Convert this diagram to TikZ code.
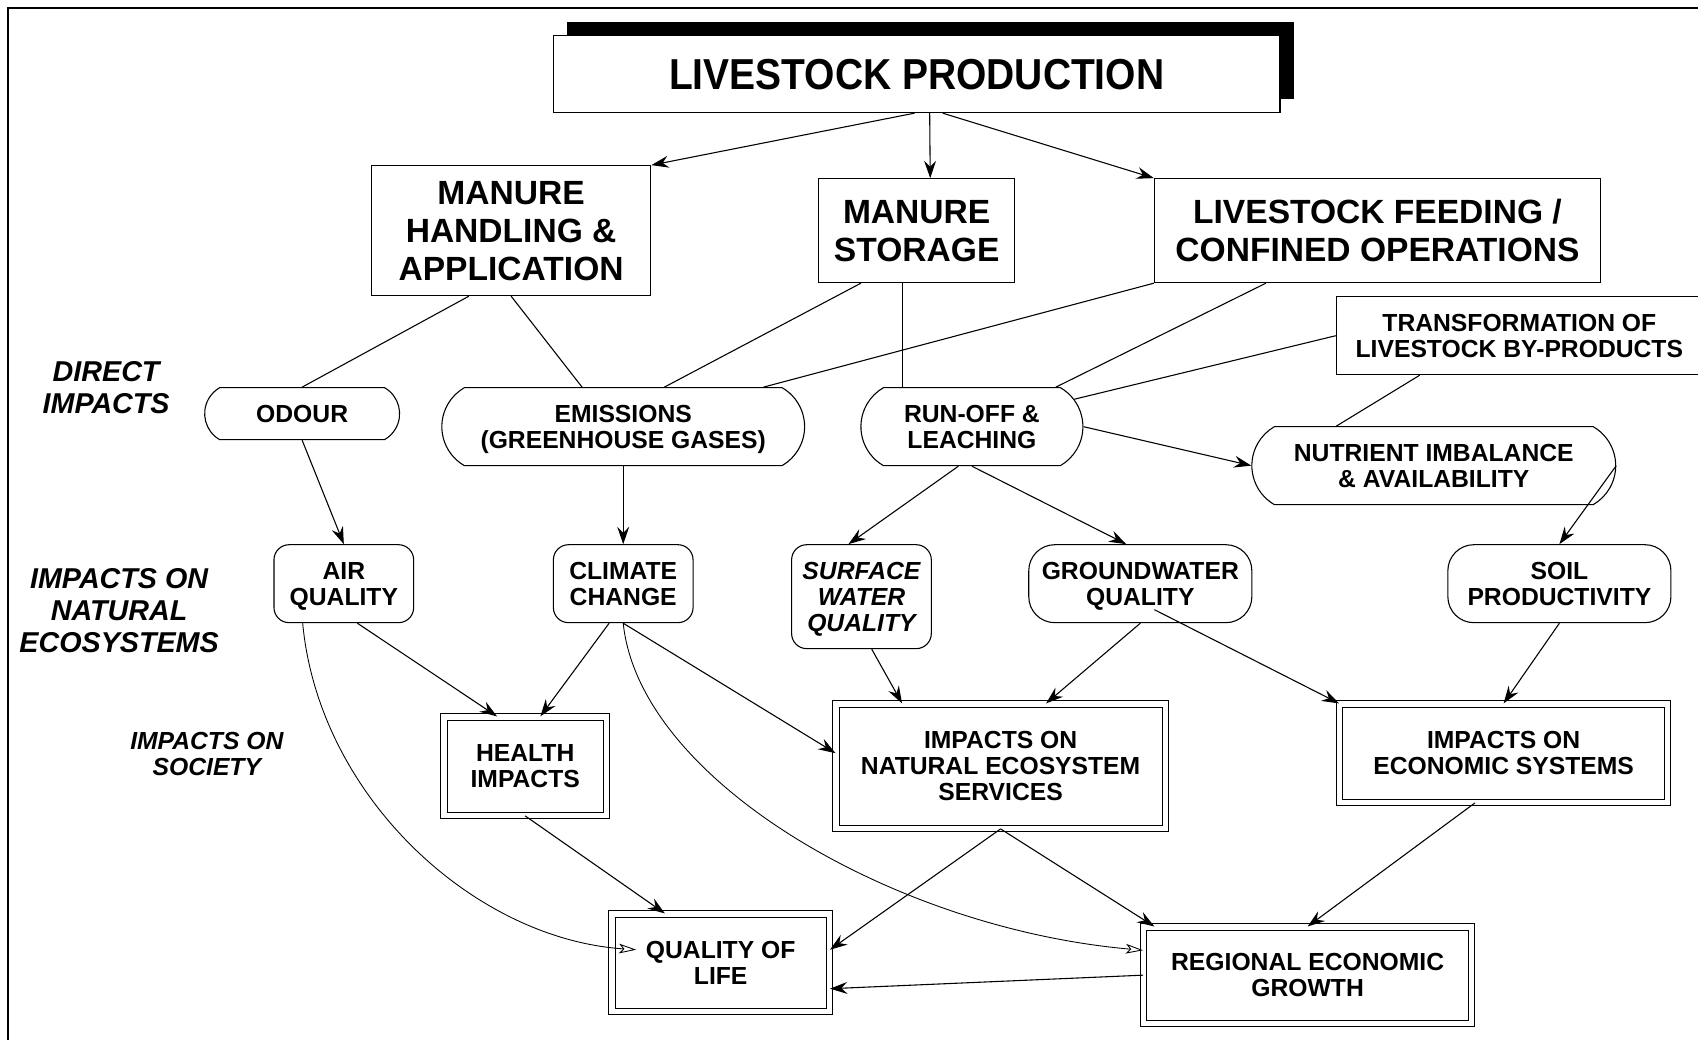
\documentclass[tikz,border=0pt]{standalone}
\usepackage{fontspec}
\setmainfont{Liberation Sans}
\newfontfamily\narrowfont[FakeStretch=0.9]{Liberation Sans}
\usetikzlibrary{arrows.meta,shapes.misc,calc,shadows}
\begin{document}
\begin{tikzpicture}[x=1pt,y=-1pt,
  every node/.style={align=center, inner sep=0pt, text depth=0pt},
  small/.style={font=\fontsize{22.8}{24}\selectfont\bfseries},
  smallit/.style={font=\fontsize{22.8}{24}\selectfont\bfseries\itshape},
  big/.style={font=\fontsize{31}{35}\selectfont\bfseries},
  lab/.style={font=\fontsize{26.5}{29.5}\selectfont\bfseries\itshape},
  sq/.style={draw, line width=1pt, rectangle},
  pill/.style={draw, line width=1pt, rounded rectangle, rounded rectangle arc length=120},
  rbox/.style={draw, line width=1pt, rectangle, rounded corners=14pt},
  dbox/.style={draw, line width=0.9pt, double, double distance=5pt, rectangle},
  arr/.style={-{Stealth[length=16pt,width=11pt,inset=5.5pt]}, line width=1pt},
  oarr/.style={-{Stealth[open,length=16pt,width=9pt,inset=4pt]}, line width=0.8pt},
  ln/.style={line width=1pt},
]
\useasboundingbox (0,0) rectangle (1568,960);
\draw[line width=1.8pt] (7,962) -- (7,7) -- (1570,7);

% top
\node[sq, fill=white, minimum width=671pt, minimum height=71pt,
      general shadow={fill=black, shadow xshift=13pt, shadow yshift=13pt},
      font=\narrowfont\bfseries\fontsize{40}{44}\selectfont] (title) at (846.5,68.5) {LIVESTOCK PRODUCTION};

\node[sq,big,minimum width=258pt,minimum height=120pt] (mha) at (472,213) {MANURE\\HANDLING \&\\APPLICATION};
\node[sq,big,minimum width=181pt,minimum height=96pt] (ms) at (846.5,213) {MANURE\\STORAGE};
\node[sq,big,minimum width=412pt,minimum height=96pt] (lf) at (1272,213) {LIVESTOCK FEEDING /\\CONFINED OPERATIONS};
\node[sq,small,minimum width=338pt,minimum height=72pt] (trans) at (1403,310) {TRANSFORMATION OF\\LIVESTOCK BY-PRODUCTS};

% labels
\node[lab] (direct) at (98,357.5) {DIRECT\\IMPACTS};
\node[lab] (eco) at (110,563.5) {IMPACTS ON\\NATURAL\\ECOSYSTEMS};
\node[smallit] (soc) at (191,696) {IMPACTS ON\\SOCIETY};

% direct impacts
\node[pill,small,minimum width=180pt,minimum height=48pt] (odour) at (279,382) {ODOUR};
\node[pill,small,minimum width=335pt,minimum height=72pt] (emis) at (575.5,394) {EMISSIONS\\(GREENHOUSE GASES)};
\node[pill,small,minimum width=205pt,minimum height=72pt] (runoff) at (897.5,394) {RUN-OFF \&\\LEACHING};
\node[pill,small,minimum width=336pt,minimum height=72pt] (nutr) at (1324,430) {NUTRIENT IMBALANCE\\\& AVAILABILITY};

% impacts on natural ecosystems
\node[rbox,small,minimum width=129pt,minimum height=72pt] (air) at (317.5,539) {AIR\\QUALITY};
\node[rbox,small,minimum width=129pt,minimum height=72pt] (climate) at (575.5,539) {CLIMATE\\CHANGE};
\node[rbox,smallit,minimum width=129pt,minimum height=96pt] (surface) at (795.5,551) {SURFACE\\WATER\\QUALITY};
\node[rbox,small,rounded corners=24pt,minimum width=206pt,minimum height=72pt] (ground) at (1053,539) {GROUNDWATER\\QUALITY};
\node[rbox,small,rounded corners=24pt,minimum width=206pt,minimum height=72pt] (soil) at (1440,539) {SOIL\\PRODUCTIVITY};

% society
\node[dbox,small,minimum width=150pt,minimum height=91pt] (health) at (485,707.5) {HEALTH\\IMPACTS};
\node[dbox,small,minimum width=304pt,minimum height=115pt] (nes) at (924,707.5) {IMPACTS ON\\NATURAL ECOSYSTEM\\SERVICES};
\node[dbox,small,minimum width=303pt,minimum height=91pt] (econ) at (1388.5,695.5) {IMPACTS ON\\ECONOMIC SYSTEMS};
\node[dbox,small,minimum width=201pt,minimum height=90pt] (qol) at (665.5,889) {QUALITY OF\\LIFE};
\node[dbox,small,minimum width=303pt,minimum height=89pt] (reg) at (1207.5,900.5) {REGIONAL ECONOMIC\\GROWTH};

% connectors
\draw[arr] ([xshift=-2pt]title.south) -- (mha.north east);
\draw[arr] ([xshift=12pt]title.south) -- ([xshift=12.5pt]ms.north);
\draw[arr] ([xshift=24pt]title.south) -- (lf.north west);

\draw[ln] ([xshift=-39pt]mha.south) -- (odour.north);
\draw[ln] (mha.south) -- ([xshift=-38pt]emis.north);
\draw[ln] ([xshift=-51.5pt]ms.south) -- ([xshift=38pt]emis.north);
\draw[ln] ([xshift=-13.5pt]ms.south) -- ([xshift=-64.5pt]runoff.north);
\draw[ln] (lf.south west) -- ([xshift=129.5pt]emis.north);
\draw[ln] ([xshift=-103pt]lf.south) -- ([xshift=77.5pt]runoff.north);
\draw[ln] (trans.west) -- (runoff.15);
\draw[ln] ([xshift=-92pt]trans.south) -- ([xshift=-90pt]nutr.north);

\draw[arr] (odour.south) -- (air.north);
\draw[arr] (emis.south) -- (climate.north);
\draw[arr] (runoff.east) -- (nutr.west);
\draw[arr] ([xshift=-12.5pt]runoff.south) -- ([xshift=-12pt]surface.north);
\draw[arr] (runoff.south) -- ([xshift=-13pt]ground.north);
\draw[arr] (nutr.east) -- (soil.north);

\draw[oarr] ([xshift=-38pt]air.south) .. controls +(15,160) and +(-150,-10) .. ($(qol.center)+(-78,-12)$);
\draw[arr] ([xshift=12.5pt]air.south) -- ([xshift=-26pt]health.north);
\draw[arr] ([xshift=-13pt]climate.south) -- ([xshift=14pt]health.north);
\draw[arr] (climate.south) -- ([yshift=12pt]nes.west);
\draw[oarr] (climate.south) .. controls +(15,145) and +(-230,-20) .. ([yshift=23pt]reg.west);

\draw[arr] ([xshift=9.5pt]surface.south) -- ([xshift=-91pt]nes.north);
\draw[arr] (ground.south) -- ([xshift=42pt]nes.north);
\draw[arr] ($(ground.center)+(13,24)$) -- (econ.north west);
\draw[arr] (soil.south) -- (econ.north);

\draw[arr] (health.south) -- ([xshift=-51.5pt]qol.north);
\draw[arr] (nes.south) -- ([yshift=12pt]qol.east);
\draw[arr] (nes.south) -- ([xshift=-141.5pt]reg.north);
\draw[arr] ([xshift=-26.5pt]econ.south) -- (reg.north);
\draw[arr] (reg.west) -- ([yshift=-24pt]qol.east);
\end{tikzpicture}
\end{document}
